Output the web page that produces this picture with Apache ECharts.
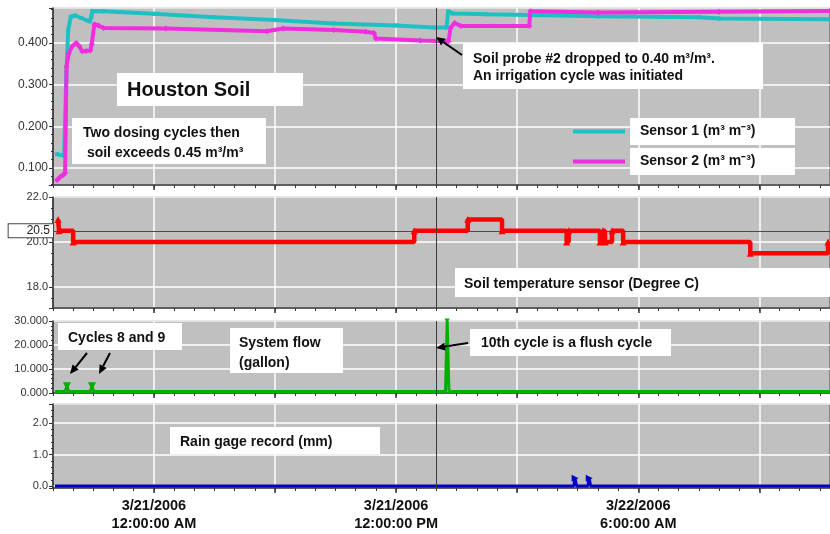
<!DOCTYPE html>
<html><head><meta charset="utf-8">
<script src="https://cdn.jsdelivr.net/npm/echarts@6/dist/echarts.min.js"></script>
<style>html,body{margin:0;padding:0;background:#fff;}#c{width:830px;height:534px;}</style>
</head><body><div id="c"></div>
<script>
// ---------- data (x = hours from 3/21/2006 12:00 AM) ----------
const xGridHours = [0, 6, 12, 18, 24, 30];
const xTickHours = [0, 12, 24];
const xTickLabels = ['3/21/2006\n12:00:00 AM', '3/21/2006\n12:00:00 PM', '3/22/2006\n6:00:00 AM'];
const cursorHour = 14;
const tempRefLine = 20.5;
const sensor1Name = 'Sensor 1 (m\u00B3 m\u207B\u00B3)';
const sensor2Name = 'Sensor 2 (m\u00B3 m\u207B\u00B3)';

const sensor1 = [
  [-4.8, 0.133], [-4.45, 0.130], [-4.35, 0.31], [-4.25, 0.43], [-4.12, 0.463], [-3.9, 0.466],
  [-3.6, 0.460], [-3.3, 0.454], [-3.17, 0.452], [-3.1, 0.463], [-3.05, 0.477], [-2.5, 0.476],
  [0, 0.470], [3, 0.462], [6, 0.455], [8.9, 0.447], [12, 0.442], [13.9, 0.437], [14.5, 0.437],
  [14.58, 0.476], [14.8, 0.471], [16.5, 0.469], [18.6, 0.467], [22, 0.464], [27, 0.462],
  [28, 0.459], [33.5, 0.457]
];
const sensor2 = [
  [-4.8, 0.071], [-4.65, 0.078], [-4.5, 0.083], [-4.4, 0.088], [-4.33, 0.343], [-4.22, 0.375],
  [-4.05, 0.392], [-3.85, 0.400], [-3.7, 0.392], [-3.55, 0.380], [-3.35, 0.381], [-3.15, 0.382],
  [-3.08, 0.397], [-2.95, 0.445], [-2.75, 0.442], [-2.5, 0.436], [0.6, 0.435], [5.6, 0.428],
  [6.4, 0.435], [8.9, 0.431], [10.5, 0.427], [10.9, 0.424], [11.0, 0.411], [13.2, 0.406],
  [14.6, 0.404], [14.7, 0.436], [14.9, 0.448], [15.2, 0.441], [18.6, 0.441], [18.65, 0.476],
  [22, 0.473], [28, 0.475], [33.5, 0.477]
];
const soilTemp = [
  [-4.75, 21.0], [-4.7, 20.5], [-4.0, 20.0], [12.9, 20.5], [15.55, 21.0], [17.25, 20.5],
  [20.45, 20.0], [20.55, 20.5], [22.1, 20.0], [22.25, 20.5], [22.35, 20.0], [22.7, 20.5],
  [23.25, 20.0], [29.55, 19.5], [33.4, 20.0]
];
const systemFlow = [
  [-4.9, 0.6], [-4.4, 0.6], [-4.31, 2.8], [-4.22, 0.6], [-3.15, 0.6], [-3.07, 2.8], [-2.98, 0.6],
  [14.45, 0.6], [14.53, 30], [14.62, 0.6], [33.5, 0.6]
];
const rainGage = [
  [-4.9, 0], [20.8, 0], [20.87, 0.25], [20.94, 0], [21.5, 0], [21.57, 0.25], [21.64, 0], [33.5, 0]
];

// ---------- chart ----------
const FONT = "'Liberation Sans', Arial, sans-serif";
const TFONT = 'bold 14px ' + FONT;
const chart = echarts.init(document.getElementById('c'));

const gridBoxes = [
  {top: 8, height: 177}, {top: 197, height: 111}, {top: 321, height: 72}, {top: 404, height: 84}
];
const grids = gridBoxes.map(g => ({
  left: 53, right: -1, top: g.top, height: g.height, show: true,
  backgroundColor: '#c0c0c0', borderColor: '#4a4a4a', borderWidth: 1
}));

function labelFor(v) {
  const i = xTickHours.indexOf(Math.round(v * 1000) / 1000);
  return i >= 0 ? xTickLabels[i] : '';
}

const xAxes = [];
for (let i = 0; i < 4; i++) {
  xAxes.push({
    type: 'value', gridIndex: i, min: -5, max: 33.5, interval: 1, position: 'bottom',
    axisLine: {show: true, onZero: false, lineStyle: {color: '#333', width: 1.5}},
    axisTick: {show: true, customValues: xGridHours, length: 5, lineStyle: {color: '#333', width: 1.5}},
    axisLabel: i === 3 ? {show: true, customValues: xTickHours, formatter: labelFor,
      fontFamily: FONT, fontWeight: 'bold', fontSize: 14.5, color: '#111', lineHeight: 18, margin: 9} : {show: false},
    splitLine: {show: true, lineStyle: {color: '#ffffff', width: 1.5}}
  });
  xAxes.push({
    type: 'value', gridIndex: i, min: -5, max: 33.5, interval: 1, position: 'bottom',
    axisLine: {show: false, onZero: false}, axisTick: {show: true, length: 3, lineStyle: {color: '#333'}},
    axisLabel: {show: false}, splitLine: {show: false}
  });
}

const ySpecs = [
  {min: 0.059, max: 0.484, splitNumber: 4, dec: 3, minor: 5, showMin: false, showMax: false, fs: 12},
  {min: 17.07, max: 22.0, splitNumber: 3, dec: 1, minor: 4, showMin: false, showMax: true, fs: 11},
  {min: 0, max: 30, interval: 10, dec: 3, minor: 5, showMin: true, showMax: true, fs: 11},
  {min: -0.06, max: 2.6, splitNumber: 3, dec: 1, minor: 5, showMin: false, showMax: false, fs: 11}
];
const yAxes = ySpecs.map((s, i) => {
  const a = {
    type: 'value', gridIndex: i, min: s.min, max: s.max, position: 'left',
    axisLine: {show: true, onZero: false, lineStyle: {color: '#333', width: 1.5}},
    axisTick: {show: true, length: 4, lineStyle: {color: '#333'}},
    minorTick: {show: true, splitNumber: s.minor, length: 2, lineStyle: {color: '#333'}},
    axisLabel: {fontFamily: FONT, fontSize: s.fs, color: '#333', margin: 5,
      showMinLabel: s.showMin, showMaxLabel: s.showMax, formatter: v => v.toFixed(s.dec)},
    splitLine: {show: true, lineStyle: {color: '#ffffff', width: 1.5}}
  };
  if (s.interval) a.interval = s.interval; else a.splitNumber = s.splitNumber;
  return a;
});

const cursorLine = {xAxis: cursorHour, label: {show: false}, lineStyle: {color: '#3a3a3a', width: 1, type: 'solid'}};
const mk = (extra) => ({silent: true, symbol: ['none', 'none'], animation: false, data: [cursorLine].concat(extra || [])});

const flowData = systemFlow.map(([x, y]) => y > 1.5
  ? {value: [x, y], symbol: 'triangle', symbolRotate: 180, symbolSize: y > 10 ? 5 : 8} : [x, y]);
const rainData = rainGage.map(([x, y]) => y > 0
  ? {value: [x, y], symbol: 'triangle', symbolRotate: -90, symbolSize: 7} : [x, y]);

function txt(x, y, text, font, lh) {
  return {type: 'text', x: x, y: y, z: 101,
    style: {text: text, font: font || TFONT, fill: '#111', align: 'left', verticalAlign: 'middle', lineHeight: lh || 18}};
}
function box(x, y, w, h) {
  return {type: 'rect', z: 100, shape: {x: x, y: y, width: w, height: h}, style: {fill: '#ffffff'}};
}
function arrow(x1, y1, x2, y2) {
  const a = Math.atan2(y2 - y1, x2 - x1), L = 9, W = 4;
  const bx = x2 - L * Math.cos(a), by = y2 - L * Math.sin(a);
  const px = -Math.sin(a) * W, py = Math.cos(a) * W;
  return [
    {type: 'line', z: 100, shape: {x1: x1, y1: y1, x2: bx, y2: by}, style: {stroke: '#000', lineWidth: 2}},
    {type: 'polygon', z: 100, shape: {points: [[x2, y2], [bx + px, by + py], [bx - px, by - py]]}, style: {fill: '#000'}}
  ];
}

const graphics = [
  box(117, 73, 186, 33), txt(127, 90, 'Houston Soil', 'bold 20px ' + FONT),
  box(72, 118, 194, 46), txt(83, 143, 'Two dosing cycles then\n soil exceeds 0.45 m\u00B3/m\u00B3', null, 19.5),
  box(463, 43, 300, 46), txt(473, 67.5, 'Soil probe #2 dropped to 0.40 m\u00B3/m\u00B3.\nAn irrigation cycle was initiated', null, 17),
  box(455, 268, 376, 29), txt(464, 284, 'Soil temperature sensor (Degree C)'),
  box(58, 323, 124, 27), txt(68, 338, 'Cycles 8 and 9'),
  box(230, 328, 113, 45), txt(239, 353, 'System flow\n(gallon)', null, 20),
  box(470, 329, 201, 27), txt(481, 343, '10th cycle is a flush cycle'),
  box(170, 427, 210, 27), txt(180, 442, 'Rain gage record (mm)')
].concat(arrow(462, 55, 436, 37), arrow(87, 353, 70, 374), arrow(110, 353, 99, 374), arrow(468, 343, 436, 348));

chart.setOption({
  animation: false,
  backgroundColor: '#ffffff',
  grid: grids,
  xAxis: xAxes,
  yAxis: yAxes,
  legend: {
    data: [sensor1Name, sensor2Name], orient: 'vertical', left: 568, top: 113,
    itemWidth: 52, itemHeight: 4, itemGap: 3, icon: 'rect', selectedMode: false,
    textStyle: {fontFamily: FONT, fontWeight: 'bold', fontSize: 14, color: '#111', backgroundColor: '#ffffff',
      padding: [6, 10], width: 145, lineHeight: 15}
  },
  series: [
    {name: sensor1Name, type: 'line', xAxisIndex: 0, yAxisIndex: 0, data: sensor1, color: '#1fc0c4',
      lineStyle: {width: 4}, symbol: 'rect', symbolSize: 4, showSymbol: true, z: 3, markLine: mk()},
    {name: sensor2Name, type: 'line', xAxisIndex: 0, yAxisIndex: 0, data: sensor2, color: '#f02ee0',
      lineStyle: {width: 4}, symbol: 'diamond', symbolSize: 6, showSymbol: true, z: 4},
    {name: 'Soil temperature', type: 'line', xAxisIndex: 2, yAxisIndex: 1, data: soilTemp, step: 'end',
      color: '#ff0000', lineStyle: {width: 4.5}, symbol: 'triangle', symbolSize: 7, showSymbol: true,
      markLine: mk([{yAxis: tempRefLine, lineStyle: {color: '#4a4a4a', width: 1.2, type: 'solid'},
        label: {show: true, position: 'start', distance: 0, formatter: String(tempRefLine.toFixed(1)),
          fontFamily: FONT, fontSize: 12, color: '#222', backgroundColor: '#ffffff',
          borderColor: '#444', borderWidth: 1, padding: [1, 3, 0, 18]}}])},
    {name: 'System flow', type: 'line', xAxisIndex: 4, yAxisIndex: 2, data: flowData, color: '#00b000',
      lineStyle: {width: 3}, symbol: 'none', showSymbol: true, markLine: mk()},
    {name: 'Rain gage', type: 'line', xAxisIndex: 6, yAxisIndex: 3, data: rainData, color: '#0000c8',
      lineStyle: {width: 3}, symbol: 'none', showSymbol: true, markLine: mk()}
  ],
  graphic: graphics
});
</script></body></html>
